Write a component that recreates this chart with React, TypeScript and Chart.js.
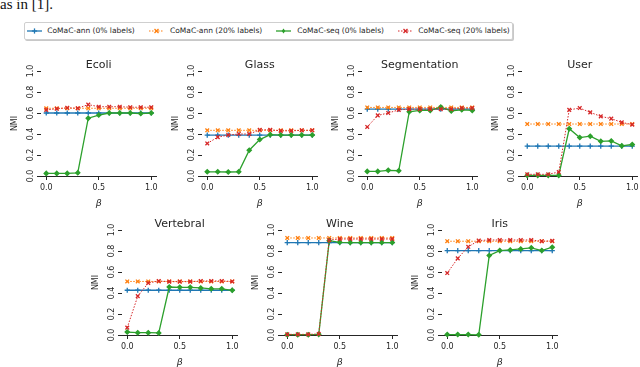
import React, { useEffect, useRef } from "react";
import { Chart, registerables } from "chart.js";

Chart.register(...registerables);

// ---------------- data ----------------
const betas = [0, 0.1, 0.2, 0.3, 0.4, 0.5, 0.6, 0.7, 0.8, 0.9, 1.0];
const xTickValues = [0, 0.5, 1.0];
const yTickStep = 0.2;
const seriesLabels = [
  "CoMaC-ann (0% labels)",
  "CoMaC-ann (20% labels)",
  "CoMaC-seq (0% labels)",
  "CoMaC-seq (20% labels)",
];
const panelTitles = ["Ecoli", "Glass", "Segmentation", "User", "Vertebral", "Wine", "Iris"];

const ecoliAnn0 = [0.6, 0.6, 0.6, 0.6, 0.6, 0.6, 0.6, 0.6, 0.6, 0.6, 0.6];
const ecoliAnn20 = [0.645, 0.645, 0.645, 0.645, 0.645, 0.645, 0.645, 0.645, 0.645, 0.645, 0.645];
const ecoliSeq0 = [0.025, 0.025, 0.025, 0.03, 0.55, 0.58, 0.6, 0.6, 0.6, 0.595, 0.6];
const ecoliSeq20 = [0.63, 0.64, 0.65, 0.645, 0.68, 0.66, 0.66, 0.66, 0.655, 0.655, 0.655];

const glassAnn0 = [0.39, 0.39, 0.39, 0.39, 0.39, 0.39, 0.39, 0.39, 0.39, 0.39, 0.39];
const glassAnn20 = [0.435, 0.435, 0.435, 0.435, 0.435, 0.435, 0.435, 0.435, 0.435, 0.435, 0.435];
const glassSeq0 = [0.04, 0.04, 0.038, 0.04, 0.246, 0.347, 0.394, 0.39, 0.39, 0.39, 0.39];
const glassSeq20 = [0.31, 0.37, 0.39, 0.4, 0.4, 0.44, 0.44, 0.43, 0.43, 0.435, 0.435];

const segAnn0 = [0.637, 0.637, 0.637, 0.637, 0.637, 0.637, 0.637, 0.637, 0.637, 0.637, 0.637];
const segAnn20 = [0.653, 0.653, 0.653, 0.653, 0.653, 0.653, 0.653, 0.653, 0.653, 0.653, 0.653];
const segSeq0 = [0.044, 0.044, 0.054, 0.05, 0.612, 0.625, 0.625, 0.656, 0.62, 0.63, 0.625];
const segSeq20 = [0.467, 0.577, 0.6, 0.63, 0.637, 0.637, 0.637, 0.637, 0.637, 0.646, 0.646];

const userAnn0 = [0.284, 0.284, 0.284, 0.284, 0.284, 0.284, 0.284, 0.284, 0.284, 0.284, 0.284];
const userAnn20 = [0.495, 0.495, 0.495, 0.495, 0.495, 0.495, 0.495, 0.495, 0.495, 0.495, 0.495];
const userSeq0 = [0.006, 0.006, 0.006, 0.006, 0.45, 0.366, 0.379, 0.33, 0.334, 0.287, 0.3];
const userSeq20 = [0.016, 0.016, 0.016, 0.038, 0.63, 0.647, 0.606, 0.568, 0.546, 0.511, 0.489];

const vertAnn0 = [0.426, 0.426, 0.426, 0.426, 0.426, 0.426, 0.426, 0.426, 0.426, 0.426, 0.426];
const vertAnn20 = [0.51, 0.51, 0.51, 0.51, 0.51, 0.51, 0.51, 0.51, 0.51, 0.51, 0.51];
const vertSeq0 = [0.028, 0.022, 0.022, 0.02, 0.457, 0.454, 0.454, 0.448, 0.44, 0.44, 0.426];
const vertSeq20 = [0.07, 0.37, 0.495, 0.514, 0.508, 0.508, 0.508, 0.514, 0.514, 0.514, 0.51];

const wineAnn0 = [0.88, 0.88, 0.88, 0.88, 0.88, 0.88, 0.88, 0.88, 0.88, 0.88, 0.88];
const wineAnn20 = [0.924, 0.924, 0.924, 0.924, 0.924, 0.924, 0.924, 0.924, 0.924, 0.924, 0.924];
const wineSeq0 = [0.003, 0.003, 0.003, 0.006, 0.898, 0.883, 0.88, 0.88, 0.88, 0.88, 0.88];
const wineSeq20 = [0.006, 0.006, 0.006, 0.01, 0.905, 0.914, 0.914, 0.914, 0.914, 0.914, 0.914];

const irisAnn0 = [0.804, 0.804, 0.804, 0.804, 0.804, 0.804, 0.804, 0.804, 0.804, 0.804, 0.804];
const irisAnn20 = [0.893, 0.893, 0.893, 0.893, 0.893, 0.893, 0.893, 0.893, 0.893, 0.893, 0.893];
const irisSeq0 = [0.004, 0.004, 0.004, 0.002, 0.757, 0.804, 0.81, 0.82, 0.83, 0.804, 0.836];
const irisSeq20 = [0.59, 0.73, 0.84, 0.9, 0.905, 0.905, 0.905, 0.905, 0.905, 0.893, 0.896];

const panelSeries = [
  [ecoliAnn0, ecoliAnn20, ecoliSeq0, ecoliSeq20],
  [glassAnn0, glassAnn20, glassSeq0, glassSeq20],
  [segAnn0, segAnn20, segSeq0, segSeq20],
  [userAnn0, userAnn20, userSeq0, userSeq20],
  [vertAnn0, vertAnn20, vertSeq0, vertSeq20],
  [wineAnn0, wineAnn20, wineSeq0, wineSeq20],
  [irisAnn0, irisAnn20, irisSeq0, irisSeq20],
];

// ---------------- layout & style ----------------
const FONT = "'DejaVu Sans', sans-serif";
const TEXT = "#262626";
const AXIS = "#262626";
const CANVAS_W = 165;
const CANVAS_H = 160;
const Y_AXIS_W = 42;
const X_AXIS_H = 33;
const panelPositions = [
  { left: -1, top: 49 },
  { left: 160, top: 49 },
  { left: 320, top: 49 },
  { left: 480, top: 49 },
  { left: 80, top: 208 },
  { left: 240, top: 208 },
  { left: 400, top: 208 },
];

const seriesStyles = [
  { color: "#1f77b4", dash: [] as number[], point: "cross", radius: 2.6, width: 1.3 },
  { color: "#ff7f0e", dash: [1.5, 1.5], point: "crossRot", radius: 2.6, width: 1 },
  { color: "#2ca02c", dash: [] as number[], point: "rectRot", radius: 2.1, width: 1.3 },
  { color: "#d62728", dash: [1.5, 1.5], point: "crossRot", radius: 2.6, width: 1 },
];

const yTickLabelPlugin = {
  id: "yTickLabels",
  afterDraw(chart: any) {
    const { ctx, chartArea } = chart;
    const ys = chart.scales.y;
    ctx.save();
    ctx.fillStyle = TEXT;
    ctx.font = `8px ${FONT}`;
    ctx.textAlign = "center";
    ctx.textBaseline = "middle";
    for (const t of ys.ticks) {
      const y = ys.getPixelForValue(t.value);
      ctx.save();
      ctx.translate(chartArea.left - 10.5, y);
      ctx.rotate(-Math.PI / 2);
      ctx.fillText(Number(t.value).toFixed(1), 0, 0);
      ctx.restore();
    }
    ctx.restore();
  },
};

function Panel({ index }: { index: number }) {
  const ref = useRef<HTMLCanvasElement>(null);
  const pos = panelPositions[index];
  useEffect(() => {
    const series = panelSeries[index];
    const chart = new Chart(ref.current as HTMLCanvasElement, {
      type: "line",
      data: {
        datasets: series.map((vals, i) => {
          const s = seriesStyles[i];
          return {
            label: seriesLabels[i],
            data: betas.map((b, j) => ({ x: b, y: vals[j] })),
            borderColor: s.color,
            backgroundColor: s.color,
            borderWidth: s.width,
            borderDash: s.dash,
            pointStyle: s.point as any,
            pointRadius: s.radius,
            pointBorderColor: s.color,
            pointBackgroundColor: s.color,
            pointBorderWidth: 1.3,
            tension: 0,
            fill: false,
            clip: false as any,
            order: 3 - i,
          };
        }),
      },
      options: {
        animation: false,
        responsive: false,
        devicePixelRatio: 1,
        events: [],
        layout: { padding: { left: 0, top: 0, bottom: 0, right: CANVAS_W - Y_AXIS_W - 115.5 } },
        plugins: {
          legend: { display: false },
          tooltip: { enabled: false },
          title: {
            display: true,
            fullSize: false,
            text: panelTitles[index],
            color: TEXT,
            font: { family: FONT, size: 11, weight: "normal", lineHeight: 1 },
            padding: { top: 11, bottom: 0 },
          },
        },
        scales: {
          x: {
            type: "linear",
            min: -0.05,
            max: 1.05,
            afterBuildTicks: (axis: any) => {
              axis.ticks = xTickValues.map((v) => ({ value: v }));
            },
            afterFit: (axis: any) => {
              axis.height = X_AXIS_H;
            },
            ticks: {
              autoSkip: false,
              maxRotation: 0,
              padding: 3,
              color: TEXT,
              font: { family: FONT, size: 8 },
              callback: (v: any) => Number(v).toFixed(1),
            },
            grid: { drawOnChartArea: false, drawTicks: true, tickLength: 4, color: AXIS, lineWidth: 1 },
            border: { display: true, color: AXIS, width: 1 },
            title: {
              display: true,
              text: "β",
              color: TEXT,
              font: { family: FONT, size: 9.5, style: "italic", lineHeight: 1 },
              padding: { top: 0, bottom: 1.2 },
            },
          },
          y: {
            type: "linear",
            min: 0,
            max: 1,
            afterFit: (axis: any) => {
              axis.width = Y_AXIS_W;
            },
            ticks: { stepSize: yTickStep, display: false },
            grid: { drawOnChartArea: false, drawTicks: true, tickLength: 4, color: AXIS, lineWidth: 1 },
            border: { display: false },
            title: {
              display: true,
              text: "NMI",
              color: TEXT,
              font: { family: FONT, size: 8, lineHeight: 1.2 },
              padding: { top: 11, bottom: 0 },
            },
          },
        },
      },
      plugins: [yTickLabelPlugin],
    } as any);
    return () => chart.destroy();
  }, [index]);
  return (
    <canvas
      ref={ref}
      width={CANVAS_W}
      height={CANVAS_H}
      style={{ position: "absolute", left: pos.left, top: pos.top, width: CANVAS_W, height: CANVAS_H }}
    />
  );
}

const legendPositions = [
  { line: 27, text: 47.3 },
  { line: 149, text: 170 },
  { line: 276, text: 297.3 },
  { line: 398, text: 418.3 },
];

function LegendMarker({ i }: { i: number }) {
  const s = seriesStyles[i];
  const cx = 7.5;
  const cy = 5;
  let marker: any;
  if (s.point === "cross") {
    marker = (
      <g stroke={s.color} strokeWidth={1.3}>
        <line x1={cx - 2.6} y1={cy} x2={cx + 2.6} y2={cy} />
        <line x1={cx} y1={cy - 2.6} x2={cx} y2={cy + 2.6} />
      </g>
    );
  } else if (s.point === "crossRot") {
    marker = (
      <g stroke={s.color} strokeWidth={1.3}>
        <line x1={cx - 2} y1={cy - 2} x2={cx + 2} y2={cy + 2} />
        <line x1={cx - 2} y1={cy + 2} x2={cx + 2} y2={cy - 2} />
      </g>
    );
  } else {
    marker = (
      <polygon
        points={`${cx},${cy - 2.4} ${cx + 1.8},${cy} ${cx},${cy + 2.4} ${cx - 1.8},${cy}`}
        fill={s.color}
      />
    );
  }
  return (
    <svg width={15} height={10} style={{ position: "absolute", left: legendPositions[i].line - 25, top: 3 }}>
      <line
        x1={0}
        y1={cy}
        x2={15}
        y2={cy}
        stroke={s.color}
        strokeWidth={s.width}
        strokeDasharray={s.dash.length ? s.dash.join(" ") : undefined}
      />
      {marker}
    </svg>
  );
}

function Legend() {
  return (
    <div
      style={{
        position: "absolute",
        left: 24,
        top: 22,
        width: 487,
        height: 16,
        border: "1px solid #cfcfcf",
        borderRadius: 2,
        background: "#fff",
        boxShadow: "1px 1px 0 #c8c8c8",
      }}
    >
      {seriesLabels.map((label, i) => (
        <React.Fragment key={label}>
          <LegendMarker i={i} />
          <div
            style={{
              position: "absolute",
              left: legendPositions[i].text - 25,
              top: 0,
              height: 16,
              lineHeight: "16px",
              fontFamily: FONT,
              fontSize: 7.5,
              color: TEXT,
              whiteSpace: "nowrap",
            }}
          >
            {label}
          </div>
        </React.Fragment>
      ))}
    </div>
  );
}

export default function App() {
  useEffect(() => {
    document.body.style.margin = "0";
  }, []);
  return (
    <div style={{ position: "relative", width: 640, height: 367, overflow: "hidden", background: "#fff" }}>
      <div
        style={{
          position: "absolute",
          left: 0,
          top: -3.5,
          fontFamily: "'Liberation Serif', serif",
          fontSize: 15,
          lineHeight: "15px",
          color: "#111",
          whiteSpace: "nowrap",
        }}
      >
        as in [1].
      </div>
      <Legend />
      {panelTitles.map((t, i) => (
        <Panel key={t} index={i} />
      ))}
    </div>
  );
}
